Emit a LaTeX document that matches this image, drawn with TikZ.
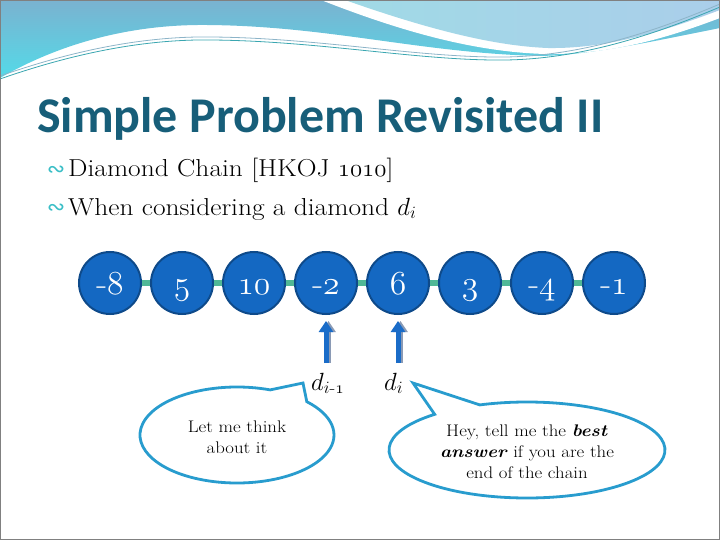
\documentclass[tikz,border=0pt]{standalone}
\usepackage{amsmath}
\usepackage{graphicx}
\usepackage{fontspec}
\setmainfont{Latin Modern Roman}[FakeStretch=1.12]
\newfontfamily\titlefont{Carlito}
\newfontfamily\symfont{DejaVu Sans}
\DeclareSymbolFont{letters}{OML}{lmm}{m}{it}
\usetikzlibrary{arrows.meta,calc}
\newcommand{\osn}[1]{{\fontencoding{OML}\fontfamily{lmm}\fontseries{m}\fontshape{it}\selectfont #1}}
\newcommand{\bigosn}[1]{\scalebox{1.35}{\fontsize{24.88}{26}\selectfont\osn{#1}}}
\definecolor{hdrTop}{RGB}{122,178,208}
\definecolor{hdrBot}{RGB}{84,218,232}
\definecolor{hdrLightA}{RGB}{160,218,230}
\definecolor{hdrLightB}{RGB}{170,206,234}
\definecolor{swA}{RGB}{140,180,200}
\definecolor{swB}{RGB}{58,166,176}
\definecolor{titleCol}{RGB}{23,94,121}
\definecolor{bulletCol}{RGB}{58,190,198}
\definecolor{diaFill}{RGB}{20,104,194}
\definecolor{diaLine}{RGB}{14,74,138}
\definecolor{linkCol}{RGB}{80,184,150}
\definecolor{arrBlue}{RGB}{26,108,200}
\definecolor{arrGray}{RGB}{138,154,181}
\definecolor{callBlue}{RGB}{40,156,206}
\definecolor{frameGray}{RGB}{128,128,128}
\tikzset{
  dia/.style={circle, draw=diaLine, line width=2pt, fill=diaFill, minimum size=62pt, inner sep=0pt,
    text=white, font=\fontsize{32}{34}\selectfont, text height=22pt, text depth=0pt},
  link/.style={draw=linkCol, line width=6pt},
  uparr/.style={line width=5pt, draw=arrBlue, -{Triangle[width=14pt,length=11pt]}, shorten >=6pt},
  uparrsh/.style={uparr, draw=arrGray},
  callout/.style={draw=callBlue, line width=2.8pt, fill=white},
  calltext/.style={align=center, font=\fontsize{16.8}{21}\selectfont, inner sep=0pt, text=black},
  bodytext/.style={anchor=base west, inner sep=0pt, font=\fontsize{24.5}{28}\selectfont, text=black},
  bulletsym/.style={text=bulletCol, font=\symfont\fontsize{22}{22}\selectfont, inner sep=0pt},
  lbl/.style={anchor=base west, inner sep=0pt, font=\fontsize{24}{28}\selectfont}
}
\begin{document}
\begin{tikzpicture}[x=1pt,y=-1pt]
\useasboundingbox (0,0) rectangle (720,540);
% header waves
\shade[top color=hdrTop, bottom color=hdrBot] (0,0) -- (720,0) -- (720,28)
  .. controls (650,42) and (590,55) .. (540,56) .. controls (420,53) and (330,26) .. (207,25)
  .. controls (110,24) and (40,55) .. (0,78) -- cycle;
\fill[white] (321,0) .. controls (410,35) and (480,52) .. (545,54)
  .. controls (615,55) and (675,35) .. (720,18) -- (720,0) -- cycle;
\shade[left color=hdrLightA, right color=hdrLightB] (345,0) .. controls (430,30) and (495,46) .. (548,48)
  .. controls (612,49) and (672,28) .. (720,10) -- (720,0) -- cycle;
\draw[swA, line width=0.8pt] (0,76) .. controls (80,48) and (150,36) .. (212,37)
  .. controls (320,38) and (420,58) .. (505,57) .. controls (590,56) and (670,25) .. (720,4);
\draw[swB, line width=0.8pt] (0,79) .. controls (80,51) and (150,39) .. (212,40)
  .. controls (320,41) and (420,61) .. (505,60) .. controls (590,59) and (670,28) .. (720,7);
\draw[frameGray, line width=1pt] (0.5,0.5) rectangle (719.5,539.5);
% title
\node[anchor=base west, inner sep=0pt, text=titleCol, font=\titlefont\bfseries\fontsize{50}{52}\selectfont] (title) at (37,133) {Simple Problem Revisited II};
% bullets
\node[bulletsym] (b1) at (56,171) {∾};
\node[bodytext] (t1) at (68,177) {Diamond Chain [HKOJ \osn{1010}]};
\node[bulletsym] (b2) at (56,209) {∾};
\node[bodytext] (t2) at (68,215) {When considering a diamond $d_i$};
% diamonds
\node[dia] (c1) at (110,283) {-\bigosn{8}};
\node[dia] (c2) at (182,283) {\bigosn{5}};
\node[dia] (c3) at (254,283) {\bigosn{10}};
\node[dia] (c4) at (326,283) {-\bigosn{2}};
\node[dia] (c5) at (398,283) {\bigosn{6}};
\node[dia] (c6) at (470,283) {\bigosn{3}};
\node[dia] (c7) at (542,283) {-\bigosn{4}};
\node[dia] (c8) at (614,283) {-\bigosn{1}};
\draw[link] (c1) -- (c2);
\draw[link] (c2) -- (c3);
\draw[link] (c3) -- (c4);
\draw[link] (c4) -- (c5);
\draw[link] (c5) -- (c6);
\draw[link] (c6) -- (c7);
\draw[link] (c7) -- (c8);
% labels and arrows
\node[lbl] (l1) at (311,390) {$d_{i\text{-}\mathnormal{1}}$};
\node[lbl] (l2) at (384,390) {$d_i$};
\path (c4.south) ++(0,48) coordinate (a1);
\path (c5.south) ++(0,48) coordinate (a2);
\draw[uparrsh, transform canvas={xshift=2.5pt}] (a1) -- (c4.south);
\draw[uparr] (a1) -- (c4.south);
\draw[uparrsh, transform canvas={xshift=2.5pt}] (a2) -- (c5.south);
\draw[uparr] (a2) -- (c5.south);
% callout 1
\coordinate (tip1) at (303,383);
\coordinate (e1c) at (237,435);
\draw[callout] ($(e1c)+(-44:97 and 48)$) -- (tip1) -- ($(e1c)+(-70:97 and 48)$)
  arc[start angle=-70, end angle=-404, x radius=97, y radius=48] -- cycle;
\node[calltext] (ct1) at (237,437) {Let me think\\about it};
% callout 2
\coordinate (tip2) at (413,383);
\coordinate (e2c) at (527,450);
\draw[callout] ($(e2c)+(-110:138 and 48)$) -- (tip2) -- ($(e2c)+(-132:138 and 48)$)
  arc[start angle=-132, end angle=-470, x radius=138, y radius=48] -- cycle;
\node[calltext] (ct2) at (527,452) {Hey, tell me the \textbf{\textit{best}}\\\textbf{\textit{answer}} if you are the\\end of the chain};
\end{tikzpicture}
\end{document}
